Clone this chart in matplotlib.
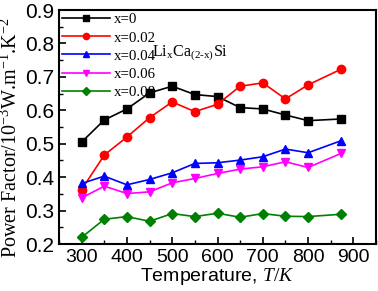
import matplotlib
matplotlib.use('Agg')
import matplotlib.pyplot as plt
from matplotlib.ticker import MultipleLocator

plt.rcParams['mathtext.fontset'] = 'custom'
plt.rcParams['mathtext.rm'] = 'Liberation Serif'
plt.rcParams['mathtext.it'] = 'Liberation Serif:italic'

temps = [300, 350, 400, 450, 500, 550, 600, 650, 700, 750, 800, 873]
pf_0 = [0.505, 0.571, 0.604, 0.652, 0.672, 0.647, 0.641, 0.608, 0.604, 0.586, 0.569, 0.574]
pf_002 = [0.363, 0.466, 0.520, 0.578, 0.625, 0.596, 0.618, 0.672, 0.682, 0.634, 0.676, 0.723]
pf_004 = [0.381, 0.403, 0.377, 0.393, 0.413, 0.441, 0.443, 0.451, 0.461, 0.484, 0.473, 0.509]
pf_006 = [0.338, 0.373, 0.351, 0.356, 0.383, 0.396, 0.411, 0.424, 0.431, 0.446, 0.429, 0.471]
pf_008 = [0.220, 0.274, 0.282, 0.268, 0.291, 0.282, 0.292, 0.280, 0.291, 0.283, 0.282, 0.289]

labels = ['x=0', 'x=0.02', 'x=0.04', 'x=0.06', 'x=0.08']
colors = ['black', 'red', 'blue', 'magenta', 'green']
markers = ['s', 'o', '^', 'v', 'D']

fig = plt.figure(figsize=(3.78, 2.91), dpi=100)
ax = fig.add_axes([59/378, 47/291, 317/378, 234/291])

series = [pf_0, pf_002, pf_004, pf_006, pf_008]
for s, lab, c, m in zip(series, labels, colors, markers):
    ms = 5 if m == 'D' else 6
    ax.plot(temps, s, color=c, marker=m, markersize=ms, linewidth=1.2, label=lab)

ax.set_xlim(250, 950)
ax.set_ylim(0.2, 0.9)
ax.xaxis.set_major_locator(MultipleLocator(100))
ax.xaxis.set_minor_locator(MultipleLocator(50))
ax.yaxis.set_major_locator(MultipleLocator(0.1))
ax.yaxis.set_minor_locator(MultipleLocator(0.05))
ax.tick_params(which='both', direction='in', top=False, right=False)
ax.tick_params(axis='x', labelsize=14)
ax.tick_params(axis='y', labelsize=15)
ax.tick_params(which='major', length=5, width=1.2)
ax.tick_params(which='minor', length=3, width=1.0)
for lab in ax.get_xticklabels() + ax.get_yticklabels():
    lab.set_fontfamily('Liberation Sans')
for sp in ax.spines.values():
    sp.set_linewidth(1.5)

ax.set_xlabel('Temperature, $\\mathit{T/K}$', fontsize=14, fontfamily='Liberation Sans', labelpad=0)
ax.set_ylabel('Power Factor/10$^{-3}$W.m$^{-1}$.K$^{-2}$', fontsize=14.5,
              fontfamily='Liberation Serif')
ax.yaxis.set_label_coords(-0.118, 0.455)

leg = ax.legend(loc='upper left', frameon=False, prop={'family': 'Liberation Serif', 'size': 10.7},
                handlelength=3.2, labelspacing=0.32, borderaxespad=0.0, borderpad=0.2,
                handletextpad=0.3, markerscale=0.75)

ax.text(0.294, 0.80, 'Li$_{\\mathrm{x}}$Ca$_{\\mathrm{(2\\text{-}x)}}$Si', transform=ax.transAxes,
        fontsize=11.5, fontfamily='Liberation Serif')

fig.savefig('out.png', dpi=100)
